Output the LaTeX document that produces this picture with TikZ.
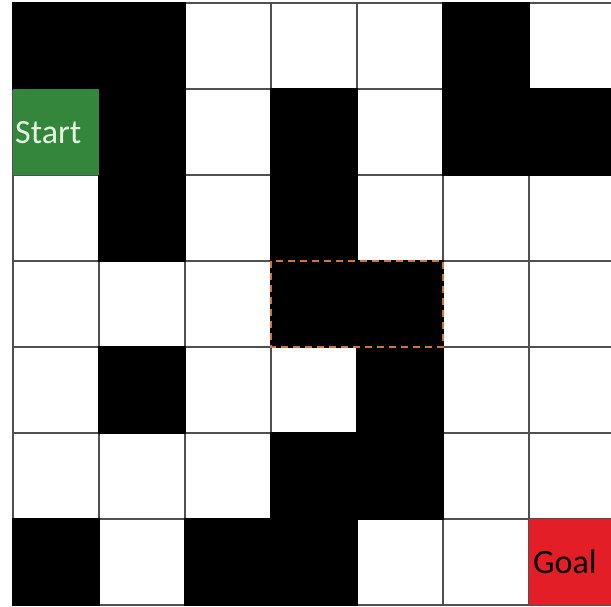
\documentclass[tikz,border=0pt]{standalone}
\usepackage{fontspec}
\setmainfont{Carlito}
\definecolor{startgreen}{RGB}{52,134,60}
\definecolor{goalred}{RGB}{228,30,38}
\definecolor{dashorange}{RGB}{210,115,60}
\definecolor{gridgray}{RGB}{80,80,80}
\definecolor{starttext}{RGB}{230,245,225}
\tikzset{
  gridline/.style={draw=gridgray, line width=1.3pt},
  wall/.style={fill=black},
  startcell/.style={fill=startgreen},
  goalcell/.style={fill=goalred},
  marked/.style={draw=dashorange, line width=2.8pt, dash pattern=on 7pt off 5pt},
  lbl/.style={font=\fontsize{34}{34}\selectfont, inner sep=0pt, anchor=base west}
}
\begin{document}
\begin{tikzpicture}[x=1pt,y=-1pt]
\useasboundingbox (0,0) rectangle (611,606);
\fill[white] (0,0) rectangle (611,606);
\clip (0,0) rectangle (611,606);
% grid lines
\foreach \i in {0,...,7}{
  \draw[gridline] ({13+86*\i},3) -- ({13+86*\i},605);
  \draw[gridline] (13,{3+86*\i}) -- (615,{3+86*\i});
}
% walls: (col,row)
\foreach \c/\r in {0/0,1/0,5/0,
                   1/1,3/1,5/1,6/1,
                   1/2,3/2,
                   3/3,4/3,
                   1/4,4/4,
                   3/5,4/5,
                   0/6,2/6,3/6}{
  \fill[wall] ({13+86*\c-0.6},{3+86*\r-0.6}) rectangle ({13+86*(\c+1)+0.6},{3+86*(\r+1)+0.6});
}
% start and goal
\fill[startcell] (13,89) rectangle (99,175);
\fill[goalcell] (529,519) rectangle (615,605);
\node[lbl, text=starttext] (start) at (15,143) {Start};
\node[lbl, text=black] (goal) at (533,573) {Goal};
% dashed highlight
\draw[marked] (271,261) rectangle (443,347);
\end{tikzpicture}
\end{document}
